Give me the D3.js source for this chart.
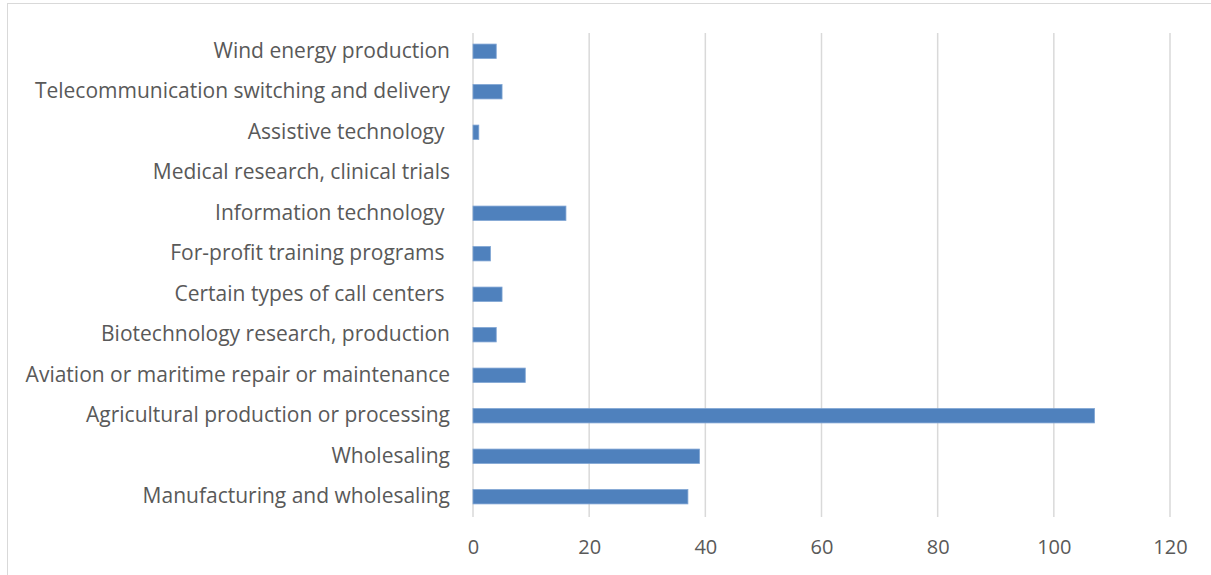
<!DOCTYPE html>
<html>
  <head>
    <script src="https://d3js.org/d3.v7.min.js"></script>
    <style>
      html,
      body {
        margin: 0;
        padding: 0;
        background: #fff;
      }
      text {
        font-family: "Open Sans", Lato, sans-serif;
        fill: #595959;
        white-space: pre;
      }
    </style>
  </head>
  <body>
    <div id="chart"></div>
    <script>
      const categories = [
        "Wind energy production",
        "Telecommunication switching and delivery",
        "Assistive technology ",
        "Medical research, clinical trials",
        "Information technology ",
        "For-profit training programs ",
        "Certain types of call centers ",
        "Biotechnology research, production",
        "Aviation or maritime repair or maintenance",
        "Agricultural production or processing",
        "Wholesaling",
        "Manufacturing and wholesaling",
      ];
      const values = [4, 5, 1, 0, 16, 3, 5, 4, 9, 107, 39, 37];
      const xTicks = [0, 20, 40, 60, 80, 100, 120];

      const width = 1211;
      const height = 575;
      const margin = { top: 31, right: 41, bottom: 58, left: 473 };

      const svg = d3
        .select("#chart")
        .append("svg")
        .attr("width", width)
        .attr("height", height);

      // chart border (only left/top show in the crop)
      svg
        .append("rect")
        .attr("x", 7.5)
        .attr("y", 3.5)
        .attr("width", width + 10)
        .attr("height", height + 10)
        .attr("fill", "none")
        .attr("stroke", "#d9d9d9")
        .attr("stroke-width", 1);

      const x = d3
        .scaleLinear()
        .domain([0, 120])
        .range([margin.left, width - margin.right]);

      const y = d3
        .scaleBand()
        .domain(categories)
        .range([margin.top, height - margin.bottom])
        .paddingInner(0.646)
        .paddingOuter(0.323);

      //gridlines
      svg
        .append("g")
        .selectAll("line")
        .data(xTicks)
        .enter()
        .append("line")
        .attr("x1", (d) => x(d))
        .attr("x2", (d) => x(d))
        .attr("y1", margin.top + 2)
        .attr("y2", height - margin.bottom)
        .attr("stroke", "#d9d9d9")
        .attr("stroke-width", 1.5);

      svg
        .append("g")
        .selectAll("rect")
        .data(values)
        .enter()
        .append("rect")
        .attr("x", x(0))
        .attr("y", (d, i) => y(categories[i]))
        .attr("width", (d) => x(d) - x(0))
        .attr("height", y.bandwidth())
        .attr("fill", "#4f81bd")
        .attr("stroke", (d) => (d > 0 ? "#7da3d3" : "none"))
        .attr("stroke-width", 0.8);

      //category labels
      const yAxis = d3.axisLeft(y).tickSize(0).tickPadding(23);
      svg
        .append("g")
        .attr("transform", `translate(${x(0)},0)`)
        .call(yAxis)
        .call((g) => g.select(".domain").remove())
        .selectAll("text")
        .style("font-size", "21px")
        .attr("fill", "#595959");

      const xAxis = d3.axisBottom(x).tickValues(xTicks).tickSize(0).tickPadding(23);
      svg
        .append("g")
        .attr("transform", `translate(0,${height - margin.bottom})`)
        .call(xAxis)
        .call((g) => g.select(".domain").remove())
        .selectAll("text")
        .style("font-size", "20px")
        .attr("fill", "#595959");
    </script>
  </body>
</html>
